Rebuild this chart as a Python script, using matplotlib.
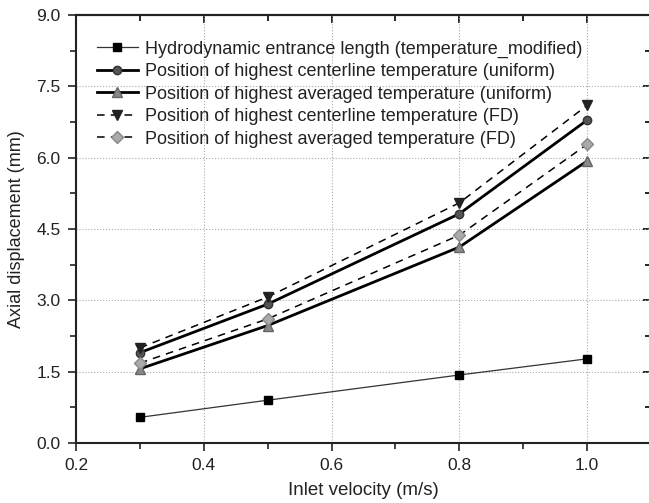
import numpy as np
import matplotlib
matplotlib.use('Agg')
import matplotlib.pyplot as plt
from matplotlib.ticker import MultipleLocator, FormatStrFormatter

plt.rcParams['font.family'] = ['Liberation Sans', 'DejaVu Sans']

velocity = [0.3, 0.5, 0.8, 1.0]
hydro_len = [0.54, 0.90, 1.43, 1.77]
center_uniform = [1.90, 2.92, 4.82, 6.79]
avg_uniform = [1.56, 2.47, 4.12, 5.93]
center_fd = [2.00, 3.07, 5.05, 7.10]
avg_fd = [1.68, 2.61, 4.37, 6.28]

fig = plt.figure(figsize=(6.49, 5.03), dpi=100)
ax = fig.add_axes([76/649, 1 - 443/503, (651 - 76)/649, (443 - 15)/503])

ax.plot(velocity, hydro_len, '-s', color='#333333', lw=0.9, ms=6,
        mfc='black', mec='black', label='Hydrodynamic entrance length (temperature_modified)')
ax.plot(velocity, center_uniform, '-o', color='black', lw=2, ms=6,
        mfc='#555555', mec='#333333', label='Position of highest centerline temperature (uniform)')
ax.plot(velocity, avg_uniform, '-^', color='black', lw=2, ms=7,
        mfc='#8a8a8a', mec='#666666', label='Position of highest averaged temperature (uniform)')
ax.plot(velocity, center_fd, '--v', color='black', lw=1.1, ms=7,
        mfc='#222222', mec='#222222', dashes=(5, 4), label='Position of highest centerline temperature (FD)')
ax.plot(velocity, avg_fd, '--D', color='black', lw=1.1, ms=6,
        mfc='#aaaaaa', mec='#888888', dashes=(5, 4), label='Position of highest averaged temperature (FD)')

ax.set_xlim(0.2, 1.1)
ax.set_ylim(0, 9.0)
ax.xaxis.set_major_locator(MultipleLocator(0.2))
ax.xaxis.set_minor_locator(MultipleLocator(0.1))
ax.yaxis.set_major_locator(MultipleLocator(1.5))
ax.yaxis.set_minor_locator(MultipleLocator(0.75))
ax.xaxis.set_major_formatter(FormatStrFormatter('%.1f'))
ax.yaxis.set_major_formatter(FormatStrFormatter('%.1f'))
ax.grid(True, which='major', ls=':', color='#aaaaaa', lw=0.8)
ax.tick_params(which='both', direction='out', width=1.2, labelsize=12.5, colors='#222222', pad=5)
ax.tick_params(which='major', length=6)
ax.tick_params(which='minor', length=4)
ax.tick_params(which='both', top=False, right=False)
ax2 = ax.secondary_xaxis('top')
ax2.xaxis.set_major_locator(MultipleLocator(0.2))
ax2.xaxis.set_minor_locator(MultipleLocator(0.1))
ax2.tick_params(which='both', direction='in', width=1.2, labeltop=False)
ax2.tick_params(which='major', length=6)
ax2.tick_params(which='minor', length=4)
ax3 = ax.secondary_yaxis('right')
ax3.yaxis.set_major_locator(MultipleLocator(1.5))
ax3.yaxis.set_minor_locator(MultipleLocator(0.75))
ax3.tick_params(which='both', direction='in', width=1.2, labelright=False)
ax3.tick_params(which='major', length=6)
ax3.tick_params(which='minor', length=4)
for s in list(ax.spines.values()) + [ax2.spines['top'], ax3.spines['right']]:
    s.set_linewidth(1.5)
    s.set_color('#222222')

ax.set_xlabel('Inlet velocity (m/s)', fontsize=13.5, color='#222222', labelpad=6)
ax.set_ylabel('Axial displacement (mm)', fontsize=13, color='#222222', labelpad=8)

ax.legend(loc='upper left', bbox_to_anchor=(0.036, 0.94), frameon=False, fontsize=13,
          handlelength=2.3, handletextpad=0.35, labelspacing=0.3, borderaxespad=0,
          borderpad=0, labelcolor='#222222')

plt.savefig('out.png', dpi=100)
